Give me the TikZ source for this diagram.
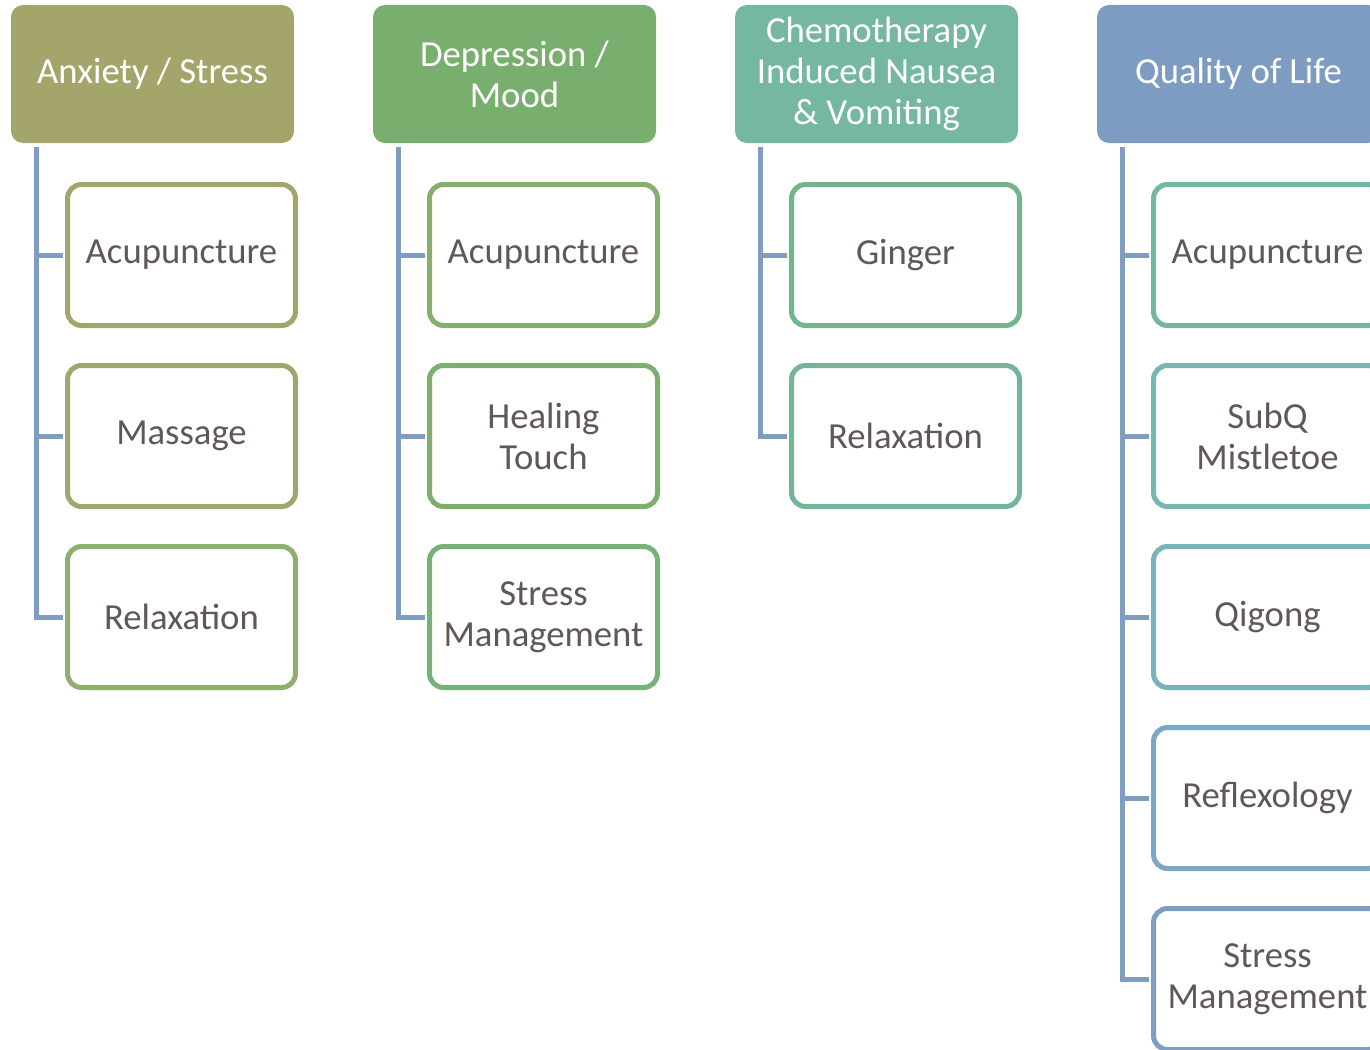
\documentclass[tikz,border=0pt]{standalone}
\usepackage{fontspec}
\setmainfont{Carlito}
\usetikzlibrary{trees}

\definecolor{anxhead}{HTML}{A4A56A}
\definecolor{dephead}{HTML}{78AF6E}
\definecolor{chemohead}{HTML}{76B7A1}
\definecolor{qolhead}{HTML}{7E9CC1}
\definecolor{link}{HTML}{7E9DC1}
\definecolor{txt}{HTML}{605856}
\definecolor{a1}{HTML}{A4A56A}
\definecolor{a2}{HTML}{9BAA6C}
\definecolor{a3}{HTML}{90AE6D}
\definecolor{d1}{HTML}{86AE6D}
\definecolor{d2}{HTML}{7BAF6E}
\definecolor{d3}{HTML}{76B277}
\definecolor{c1}{HTML}{73B58A}
\definecolor{c2}{HTML}{73B597}
\definecolor{q1}{HTML}{74B6A4}
\definecolor{q2}{HTML}{76B7B4}
\definecolor{q3}{HTML}{79B1BD}
\definecolor{q4}{HTML}{7BA8C2}
\definecolor{q5}{HTML}{7E9DC1}

\tikzset{
    head/.style={fill=#1, draw=none, rounded corners=12pt, minimum width=283pt, minimum height=138pt,
        inner sep=0pt, align=center, text=white, font=\fontsize{36.7pt}{41pt}\selectfont},
    item/.style={draw=#1, line width=5pt, fill=white, rounded corners=14pt, minimum width=228pt,
        minimum height=141pt, inner sep=0pt, align=center, text=txt, font=\fontsize{36.7pt}{41pt}\selectfont}
}

\begin{document}
\begin{tikzpicture}[x=1pt, y=-1pt,
    grow via three points={one child at (29,181) and two children at (29,181) and (29,362)},
    edge from parent/.style={draw=link, line width=5pt},
    edge from parent path={([xshift=26pt,yshift=-4pt]\tikzparentnode.south west) |- ([xshift=-2pt]\tikzchildnode.west)}]

    \clip[use as bounding box] (0,0) rectangle (1370,1049);

    \node[head=anxhead] (anx) at (152.5,74) {Anxiety / Stress}
        child {node[item=a1] (anx1) {Acupuncture}}
        child {node[item=a2] (anx2) {Massage}}
        child {node[item=a3] (anx3) {Relaxation}};

    \node[head=dephead] (dep) at (514.5,74) {Depression /\\Mood}
        child {node[item=d1] (dep1) {Acupuncture}}
        child {node[item=d2] (dep2) {Healing\\Touch}}
        child {node[item=d3] (dep3) {Stress\\Management}};

    \node[head=chemohead] (chemo) at (876.5,74) {Chemotherapy\\Induced Nausea\\\& Vomiting}
        child {node[item=c1] (chemo1) {Ginger}}
        child {node[item=c2] (chemo2) {Relaxation}};

    \node[head=qolhead] (qol) at (1238.5,74) {Quality of Life}
        child {node[item=q1] (qol1) {Acupuncture}}
        child {node[item=q2] (qol2) {SubQ\\Mistletoe}}
        child {node[item=q3] (qol3) {Qigong}}
        child {node[item=q4] (qol4) {Reflexology}}
        child {node[item=q5] (qol5) {Stress\\Management}};

\end{tikzpicture}
\end{document}
